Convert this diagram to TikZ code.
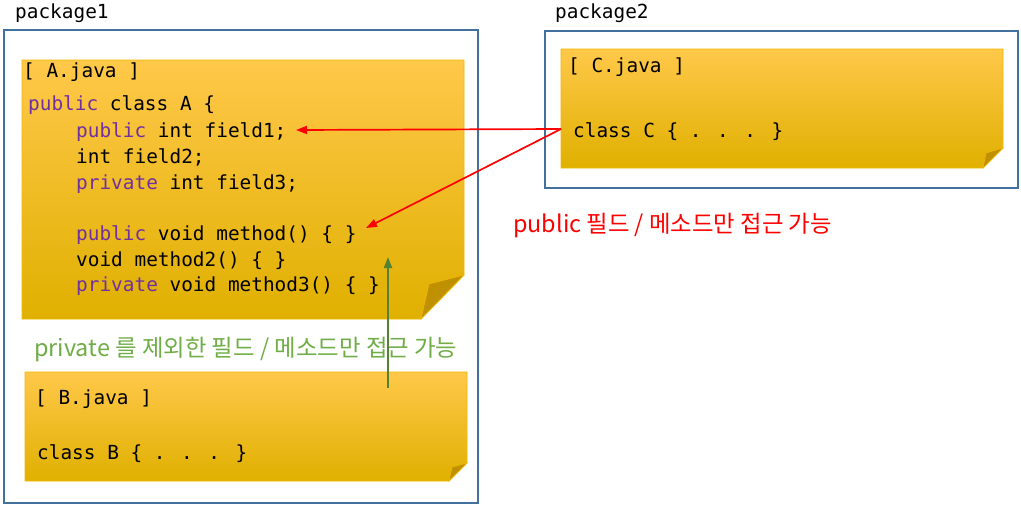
\documentclass[tikz,border=0pt]{standalone}
\usepackage{fontspec}
\newfontfamily\codefont{DejaVu Sans Mono}
\newfontfamily\krfont{Noto Sans CJK KR}
\usetikzlibrary{arrows.meta}
\definecolor{pkgblue}{HTML}{41719C}
\definecolor{kwcol}{HTML}{7030A0}
\definecolor{notetop}{HTML}{FFC84A}
\definecolor{notemid}{HTML}{FFC000}
\definecolor{notebot}{HTML}{E0B000}
\definecolor{noteedge}{HTML}{F2B800}
\definecolor{foldcol}{HTML}{BF9000}
\definecolor{grntext}{HTML}{70AD47}
\definecolor{grnarrow}{HTML}{548235}
\newcommand{\kwd}[1]{\textcolor{kwcol}{#1}}
\begin{document}
\begin{tikzpicture}[x=1pt,y=-1pt,
  pkgbox/.style={draw=pkgblue, line width=2pt, anchor=north west, inner sep=0pt},
  notebody/.style={top color=notetop, middle color=notemid, bottom color=notebot, draw=noteedge, line width=0.8pt},
  foldst/.style={fill=foldcol, draw=noteedge, line width=0.6pt},
  code/.style={font=\codefont\fontsize{19.4}{23}\selectfont, anchor=base west, inner sep=0pt},
  pkglbl/.style={font=\codefont\fontsize{19.4}{23}\selectfont, anchor=base west, inner sep=0pt},
  lbl/.style={font=\krfont\fontsize{23.4}{28}\selectfont, anchor=base west, inner sep=0pt},
  redarrow/.style={draw=red, line width=1.7pt, -{Triangle[length=11pt,width=8pt]}},
  grnarr/.style={draw=grnarrow, line width=1.7pt, -{Triangle[length=11pt,width=8pt]}}
]
\useasboundingbox[fill=white] (0,0) rectangle (1021,507);

% packages
\node[pkgbox, minimum width=474pt, minimum height=473pt] (pkg1) at (3,29) {};
\node[pkgbox, minimum width=473pt, minimum height=157pt] (pkg2) at (544,30) {};
\node[pkglbl] (pkg1lbl) at (15,18) {package1};
\node[pkglbl] (pkg2lbl) at (555,18) {package2};

% A.java note
\path[notebody] (22,60) -- (464,60) -- (464,275) -- (421,319) -- (22,319) -- cycle;
\path[foldst] (464,275) -- (429,284) -- (421,319) -- cycle;
% B.java note
\path[notebody] (25,372) -- (467,372) -- (467,463) -- (449,481) -- (25,481) -- cycle;
\path[foldst] (467,463) -- (452,467) -- (449,481) -- cycle;
% C.java note
\path[notebody] (561,49) -- (1003,49) -- (1003,148) -- (983,168) -- (561,168) -- cycle;
\path[foldst] (1003,148) -- (986,153) -- (983,168) -- cycle;

% A code
\node[code] (afile) at (23,77) {[ A.java ]};
\node[code] (aclass) at (28,110) {\kwd{public} class A \{};
\node[code] (af1) at (76,137) {\kwd{public} int field1;};
\node[code] (af2) at (76,163) {int field2;};
\node[code] (af3) at (76,189) {\kwd{private} int field3;};
\node[code] (am1) at (76,240) {\kwd{public} void method() \{ \}};
\node[code] (am2) at (76,266) {void method2() \{ \}};
\node[code] (am3) at (76,291) {\kwd{private} void method3() \{ \}};

% B code
\node[code] (bfile) at (35,404) {[ B.java ]};
\node[code] (bclass) at (37,459) {class B \{ . . . \}};

% C code
\node[code] (cfile) at (568,72) {[ C.java ]};
\node[code] (cclass) at (573,137) {class C \{ . . . \}};

% labels
\node[lbl, text=red] (redlbl) at (513,232) {public 필드 / 메소드만 접근 가능};
\node[lbl, text=grntext] (grnlbl) at (34,356) {private 를 제외한 필드 / 메소드만 접근 가능};

% connectors
\coordinate (csrc) at (561,129);
\coordinate (tipf1) at (296,130);
\coordinate (tipm1) at (366,228);
\coordinate (bsrc) at (388,388);
\coordinate (tipm2) at (388,257);
\draw[redarrow] (csrc) -- (tipf1);
\draw[redarrow] (csrc) -- (tipm1);
\draw[grnarr] (bsrc) -- (tipm2);
\end{tikzpicture}
\end{document}
